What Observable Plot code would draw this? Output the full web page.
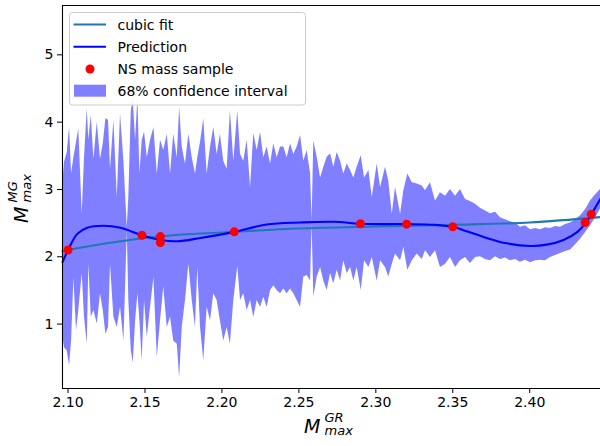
<!DOCTYPE html>
<html><head><meta charset="utf-8">
<script src="https://cdn.jsdelivr.net/npm/d3@7"></script>
<script src="https://cdn.jsdelivr.net/npm/@observablehq/plot@0.6"></script>
<style>body{margin:0;background:#fff;} svg{display:block}</style>
</head><body><div id="chart"></div>
<script>
// 68% confidence interval (x, upper, lower)
const bandX = [2.0964,2.0977,2.0995,2.1010,2.1023,2.1038,2.1055,2.1070,2.1092,2.1107,2.1125,2.1135,2.1151,2.1168,2.1190,2.1211,2.1229,2.1246,2.1263,2.1276,2.1298,2.1320,2.1341,2.1363,2.1385,2.1395,2.1411,2.1424,2.1439,2.1454,2.1467,2.1482,2.1497,2.1515,2.1536,2.1558,2.1580,2.1601,2.1622,2.1645,2.1666,2.1687,2.1710,2.1725,2.1742,2.1763,2.1785,2.1807,2.1828,2.1843,2.1861,2.1882,2.1904,2.1926,2.1947,2.1969,2.1990,2.2012,2.2034,2.2055,2.2077,2.2103,2.2121,2.2142,2.2164,2.2186,2.2207,2.2229,2.2251,2.2272,2.2294,2.2316,2.2337,2.2359,2.2381,2.2402,2.2424,2.2446,2.2467,2.2489,2.2511,2.2532,2.2554,2.2576,2.2586,2.2597,2.2619,2.2641,2.2662,2.2684,2.2706,2.2727,2.2749,2.2771,2.2792,2.2814,2.2836,2.2857,2.2879,2.2905,2.2927,2.2955,2.2977,2.3009,2.3031,2.3063,2.3084,2.3107,2.3128,2.3161,2.3182,2.3208,2.3237,2.3269,2.3302,2.3323,2.3355,2.3388,2.3420,2.3453,2.3485,2.3518,2.3550,2.3583,2.3615,2.3648,2.3680,2.3713,2.3745,2.3778,2.3810,2.3843,2.3875,2.3908,2.3940,2.3973,2.4005,2.4038,2.4070,2.4103,2.4135,2.4168,2.4200,2.4233,2.4265,2.4298,2.4330,2.4363,2.4395,2.4428,2.4460];
const bandHi = [3.03,3.40,3.55,3.92,3.23,3.47,3.70,3.90,2.63,3.47,4.20,3.73,4.10,3.45,4.00,3.45,3.68,4.05,4.03,3.30,4.03,2.88,4.12,3.42,2.43,2.88,4.17,4.32,3.73,4.37,3.23,3.73,3.85,3.47,3.73,3.92,3.23,3.73,3.58,3.82,3.23,3.82,3.47,4.22,3.63,3.38,3.82,3.47,3.23,3.47,3.70,4.05,3.23,3.63,3.92,3.52,3.82,3.42,3.30,4.17,3.42,4.17,3.52,3.42,3.73,3.03,3.83,3.58,3.85,3.47,3.63,3.38,3.68,3.47,3.63,3.63,3.47,3.68,3.52,3.63,3.80,3.42,3.58,3.23,2.53,3.72,3.48,3.17,3.33,3.48,3.53,3.33,3.55,3.42,3.23,3.38,3.28,3.17,3.33,3.50,3.17,3.28,2.88,3.38,3.03,3.33,3.13,2.63,3.03,2.63,2.98,3.23,3.10,3.08,3.05,2.98,3.10,2.83,2.95,2.90,3.00,2.90,3.00,2.85,2.82,2.78,2.72,2.68,2.64,2.66,2.58,2.55,2.52,2.50,2.44,2.46,2.40,2.42,2.40,2.43,2.42,2.45,2.44,2.48,2.50,2.55,2.61,2.70,2.83,2.92,3.00];
const bandLo = [0.85,0.65,0.60,0.38,0.75,1.69,0.90,1.20,1.75,1.10,0.70,1.89,1.10,1.20,1.00,1.45,1.20,0.85,0.95,1.89,1.10,0.95,1.25,0.75,2.38,1.35,0.60,0.42,1.05,1.45,1.05,0.45,1.35,0.80,1.25,1.69,0.50,1.05,1.55,0.95,1.10,0.75,0.70,0.20,0.95,1.35,1.89,1.35,0.95,1.84,0.95,0.45,1.25,1.05,1.45,1.35,1.05,0.75,0.95,0.70,1.35,1.86,1.35,1.45,1.20,1.35,1.10,1.35,1.25,1.40,1.25,1.50,1.57,1.50,1.45,1.52,1.45,1.52,1.45,1.35,1.25,1.70,1.72,1.64,2.49,1.40,1.70,1.84,1.64,1.50,1.75,1.60,1.80,1.64,1.94,1.75,1.84,1.64,1.84,1.50,1.94,1.84,1.99,1.64,1.94,1.84,1.70,1.89,2.04,1.94,2.14,1.80,1.94,2.04,1.96,2.09,1.99,2.09,1.84,1.89,1.99,1.84,1.94,1.99,1.90,1.99,2.00,1.96,1.94,2.00,1.96,1.98,1.94,1.96,1.92,1.95,1.91,1.94,1.95,1.94,1.99,2.02,2.05,2.08,2.10,2.18,2.26,2.36,2.46,2.58,2.71];

// Prediction curve
const predX = [2.0964,2.100,2.106,2.1125,2.123,2.134,2.148,2.160,2.171,2.186,2.208,2.229,2.251,2.273,2.290,2.320,2.338,2.350,2.359,2.372,2.385,2.4005,2.411,2.422,2.431,2.4363,2.440,2.446];
const predY = [1.92,2.10,2.34,2.43,2.46,2.43,2.32,2.25,2.23,2.28,2.37,2.48,2.51,2.52,2.49,2.485,2.475,2.445,2.38,2.28,2.20,2.16,2.18,2.25,2.37,2.50,2.63,2.86];

// Cubic fit
const fitX = [2.0964,2.100,2.125,2.150,2.175,2.200,2.250,2.300,2.350,2.400,2.446];
const fitY = [2.08,2.10,2.20,2.28,2.33,2.36,2.42,2.45,2.475,2.51,2.59];

// NS mass sample
const sampleX = [2.100,2.148,2.160,2.160,2.208,2.290,2.320,2.350,2.436,2.440];
const sampleY = [2.10,2.32,2.30,2.21,2.37,2.49,2.485,2.445,2.51,2.63];

const xTicks = [2.10,2.15,2.20,2.25,2.30,2.35,2.40];
const yTicks = [1,2,3,4,5];
const legendLabels = ["cubic fit","Prediction","NS mass sample","68% confidence interval"];

const band = bandX.map((x,i)=>({x, hi: bandHi[i], lo: bandLo[i]}));
const pred = predX.map((x,i)=>({x, y: predY[i]}));
const fit = fitX.map((x,i)=>({x, y: fitY[i]}));
const samples = sampleX.map((x,i)=>({x, y: sampleY[i]}));

const xDom = [2.0964, 2.4460], yDom = [0.043, 5.733];

const chart = Plot.plot({
  width: 600, height: 446,
  marginLeft: 62, marginRight: 0, marginTop: 5, marginBottom: 58,
  style: {fontFamily: "DejaVu Sans", fontSize: "14px", color: "#000", background: "#fff"},
  x: {domain: xDom},
  y: {domain: yDom},
  marks: [
    Plot.areaY(band, {x: "x", y1: "lo", y2: "hi", fill: "#0000ff", fillOpacity: 0.5}),
    Plot.line(fit, {x: "x", y: "y", stroke: "#1f77b4", strokeWidth: 2.1, curve: "catmull-rom"}),
    Plot.line(pred, {x: "x", y: "y", stroke: "#0000ff", strokeWidth: 2.1, curve: "catmull-rom"}),
    Plot.dot(samples, {x: "x", y: "y", r: 4.5, fill: "#ff0000"}),
    Plot.ruleX([xDom[0]], {stroke: "#000", strokeWidth: 1.1}),
    Plot.ruleY(yDom, {stroke: "#000", strokeWidth: 1.1}),
    Plot.axisX({ticks: xTicks, tickFormat: d3.format(".2f"), tickSize: 5, tickPadding: 4, label: null, fontSize: 14}),
    Plot.axisY({ticks: yTicks, tickFormat: d3.format("d"), tickSize: 5, tickPadding: 4, label: null, fontSize: 14})
  ]
});
document.getElementById("chart").appendChild(chart);

const svg = d3.select(chart);
const ff = "DejaVu Sans";

// Legend
const lg = svg.append("g").attr("font-family", ff).attr("font-size", 14).attr("text-anchor", "start");
lg.append("rect").attr("x", 69.5).attr("y", 12.5).attr("width", 236).attr("height", 92.5)
  .attr("rx", 3).attr("fill", "#fff").attr("fill-opacity", 0.8).attr("stroke", "#cccccc");
const rowY = [24.5, 46.7, 69, 90.7];
lg.append("line").attr("x1", 73.5).attr("x2", 106).attr("y1", rowY[0]).attr("y2", rowY[0]).attr("stroke", "#1f77b4").attr("stroke-width", 2.1);
lg.append("line").attr("x1", 73.5).attr("x2", 106).attr("y1", rowY[1]).attr("y2", rowY[1]).attr("stroke", "#0000ff").attr("stroke-width", 2.1);
lg.append("circle").attr("cx", 90).attr("cy", rowY[2]).attr("r", 4.5).attr("fill", "#ff0000");
lg.append("rect").attr("x", 74).attr("y", rowY[3] - 6).attr("width", 32).attr("height", 12).attr("fill", "#0000ff").attr("fill-opacity", 0.5);
legendLabels.forEach((t, i) => {
  lg.append("text").attr("x", 117.5).attr("y", rowY[i]).attr("dy", "0.36em").attr("fill", "#000").text(t);
});

// X axis label
const xl = svg.append("text").attr("font-family", ff).attr("font-style", "italic").attr("fill", "#000").attr("text-anchor", "start");
xl.append("tspan").attr("x", 304).attr("y", 432.5).attr("font-size", 19).text("M");
xl.append("tspan").attr("x", 324.5).attr("y", 421.5).attr("font-size", 13).text("GR");
xl.append("tspan").attr("x", 324.5).attr("y", 435).attr("font-size", 13).text("max");

// Y axis label (rotated)
const yl = svg.append("text").attr("transform", "rotate(-90)").attr("font-family", ff).attr("font-style", "italic").attr("fill", "#000").attr("text-anchor", "start");
yl.append("tspan").attr("x", -223).attr("y", 28).attr("font-size", 19).text("M");
yl.append("tspan").attr("x", -202.5).attr("y", 17).attr("font-size", 13).text("MG");
yl.append("tspan").attr("x", -202.5).attr("y", 30.5).attr("font-size", 13).text("max");
</script>
</body></html>
